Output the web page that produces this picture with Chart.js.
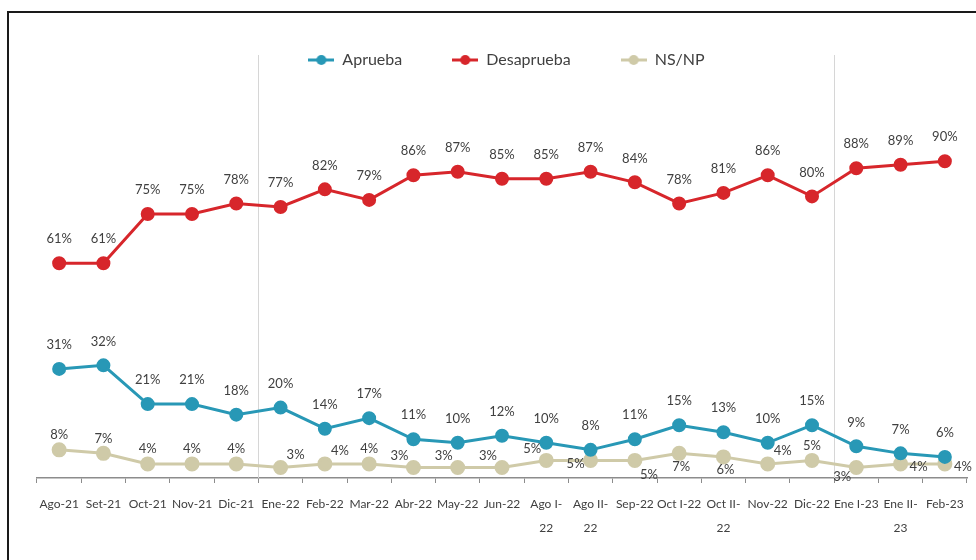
<!DOCTYPE html>
<html lang="es">
<head>
<meta charset="utf-8">
<title>Aprobación</title>
<script src="https://cdn.jsdelivr.net/npm/chart.js@4.4.0/dist/chart.umd.min.js"></script>
<style>
  html, body { margin: 0; padding: 0; background: #fff; overflow: hidden; }
  .frame { position: absolute; left: 7px; top: 11px; width: 1200px; height: 800px; border: 2px solid #1a1a1a; }
  .chart-box { position: absolute; left: 0; top: 0; width: 976px; height: 560px; }
</style>
</head>
<body>
<div class="frame"></div>
<div class="chart-box"><canvas id="approvalChart"></canvas></div>
<script>
const months = ['Ago-21', 'Set-21', 'Oct-21', 'Nov-21', 'Dic-21', 'Ene-22', 'Feb-22', 'Mar-22',
    'Abr-22', 'May-22', 'Jun-22', ['Ago I-', '22'], ['Ago II-', '22'], 'Sep-22', 'Oct I-22',
    ['Oct II-', '22'], 'Nov-22', 'Dic-22', 'Ene I-23', ['Ene II-', '23'], 'Feb-23'];

const aprueba    = [31, 32, 21, 21, 18, 20, 14, 17, 11, 10, 12, 10, 8, 11, 15, 13, 10, 15, 9, 7, 6];
const desaprueba = [61, 61, 75, 75, 78, 77, 82, 79, 86, 87, 85, 85, 87, 84, 78, 81, 86, 80, 88, 89, 90];
const nsnp       = [8, 7, 4, 4, 4, 3, 4, 4, 3, 3, 3, 5, 5, 5, 7, 6, 4, 5, 3, 4, 4];

// first survey of each new year gets a separator line before it
const yearStarts = [5, 18];

// where each NS/NP value label sits around its point
const nsnpLabelPos = ['t', 't', 't', 't', 't', 'tr', 'tr', 't', 'tl', 'tl', 'tl', 'tl', 'l',
    'br', 'b', 'b', 'tr', 't', 'bl', 'r', 'r'];

const labelOffsets = {
    t: [0, -15], tr: [15, -13], tl: [-14, -12], l: [-15, 3],
    br: [14, 14], b: [2, 13], bl: [-14, 9], r: [18, 3]
};

const COLORS = { aprueba: '#2898b6', desaprueba: '#d7262b', nsnp: '#cfcaa8' };

function legendMarker(color) {
    const c = document.createElement('canvas');
    c.width = 26;
    c.height = 12;
    const g = c.getContext('2d');
    g.strokeStyle = color;
    g.lineWidth = 3;
    g.beginPath();
    g.moveTo(0, 6);
    g.lineTo(26, 6);
    g.stroke();
    g.fillStyle = color;
    g.beginPath();
    g.arc(13, 6, 5, 0, Math.PI * 2);
    g.fill();
    return c;
}

// leave room between the legend and the plot
const legendSpacer = {
    id: 'legendSpacer',
    beforeInit(chart) {
        const legend = chart.legend;
        if (!legend) return;
        const fit = legend.fit;
        legend.fit = function() {
            fit.call(this);
            this.height += 48;
        };
    }
};

const yearLines = {
    id: 'yearLines',
    beforeDatasetsDraw(chart) {
        const x = chart.scales.x;
        const ctx = chart.ctx;
        ctx.save();
        ctx.strokeStyle = '#d6d6d6';
        ctx.lineWidth = 1;
        yearStarts.forEach(i => {
            const px = Math.round((x.getPixelForValue(i - 1) + x.getPixelForValue(i)) / 2) + 0.5;
            ctx.beginPath();
            ctx.moveTo(px, 55);
            ctx.lineTo(px, chart.chartArea.bottom);
            ctx.stroke();
        });
        ctx.restore();
    }
};

const pointLabels = {
    id: 'pointLabels',
    afterDatasetsDraw(chart) {
        const ctx = chart.ctx;
        ctx.save();
        ctx.font = '13px Lato';
        ctx.fillStyle = '#404040';
        ctx.textAlign = 'center';
        ctx.textBaseline = 'middle';
        chart.data.datasets.forEach((ds, i) => {
            chart.getDatasetMeta(i).data.forEach((pt, j) => {
                const [dx, dy] = ds.labelPos ? labelOffsets[ds.labelPos[j]] : [0, -24];
                ctx.fillText(ds.data[j] + '%', pt.x + dx, pt.y + dy);
            });
        });
        ctx.restore();
    }
};

function lineDataset(label, data, color, radius) {
    return {
        label: label,
        data: data,
        borderColor: color,
        backgroundColor: color,
        borderWidth: 3,
        pointRadius: radius,
        pointHoverRadius: radius,
        pointBackgroundColor: color,
        pointBorderColor: color,
        tension: 0
    };
}

const nsnpSet = lineDataset('NS/NP', nsnp, COLORS.nsnp, 6);
nsnpSet.labelPos = nsnpLabelPos;

new Chart(document.getElementById('approvalChart'), {
    type: 'line',
    data: {
        labels: months,
        datasets: [
            lineDataset('Aprueba', aprueba, COLORS.aprueba, 5.5),
            lineDataset('Desaprueba', desaprueba, COLORS.desaprueba, 5.5),
            nsnpSet
        ]
    },
    options: {
        responsive: true,
        maintainAspectRatio: false,
        animation: false,
        layout: { padding: { top: 2, left: 37, right: 0, bottom: 0 } },
        plugins: {
            tooltip: { enabled: false },
            legend: {
                position: 'top',
                labels: {
                    color: '#404040',
                    font: { family: 'Lato', size: 16 },
                    usePointStyle: true,
                    pointStyleWidth: 26,
                    padding: 50,
                    generateLabels(chart) {
                        const items = Chart.defaults.plugins.legend.labels.generateLabels(chart);
                        return items.map(item => ({
                            ...item,
                            pointStyle: legendMarker(chart.data.datasets[item.datasetIndex].borderColor)
                        }));
                    }
                }
            }
        },
        scales: {
            x: {
                offset: true,
                grid: { offset: true, drawOnChartArea: false, drawTicks: true, tickLength: 5, color: '#8c8c8c' },
                border: { display: true, color: '#8c8c8c', width: 1.5 },
                ticks: {
                    color: '#404040',
                    font: { family: 'Lato', size: 12, lineHeight: 2 },
                    padding: 9,
                    maxRotation: 0,
                    autoSkip: false
                },
                afterFit(scale) { scale.height = 82; }
            },
            y: { display: false, min: 0, max: 100 }
        }
    },
    plugins: [legendSpacer, yearLines, pointLabels]
});
</script>
</body>
</html>
